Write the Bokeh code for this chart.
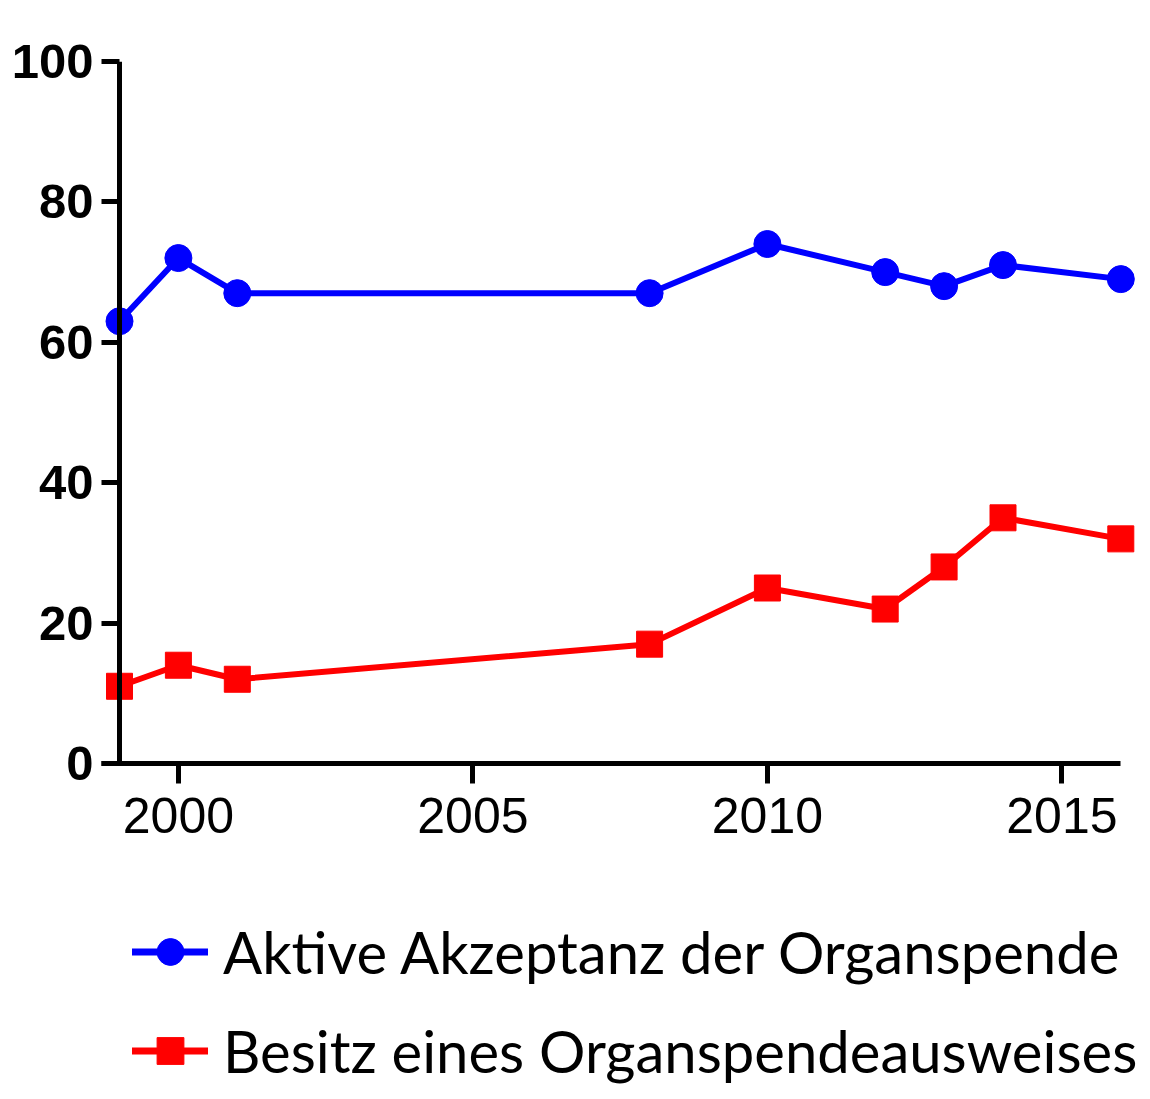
from bokeh.plotting import figure
from bokeh.models import Range1d, FixedTicker, Legend, LegendItem, Span
from bokeh.layouts import column
from bokeh.embed import file_html
from bokeh.resources import INLINE

years = [1999, 2000, 2001, 2008, 2010, 2012, 2013, 2014, 2016]
akzeptanz = [63, 72, 67, 67, 74, 70, 68, 71, 69]
ausweis = [11, 14, 12, 17, 25, 22, 28, 35, 32]
x_ticks = [2000, 2005, 2010, 2015]
y_ticks = [0, 20, 40, 60, 80, 100]
label_a = "Aktive Akzeptanz der Organspende"
label_b = "Besitz eines Organspendeausweises"

BLUE = "#0000FF"
RED = "#FF0000"
x0 = years[0] - 18 / 58.9
x1 = x0 + 1049 / 58.9

p = figure(width=1150, height=858, output_backend="svg", toolbar_location=None,
           x_range=Range1d(x0, x1), y_range=Range1d(0, 100),
           min_border_left=101, min_border_right=0, min_border_top=61,
           min_border_bottom=95)
p.grid.visible = False
p.outline_line_color = None
p.background_fill_color = "white"
p.border_fill_color = "white"

# y axis line at the first year
p.add_layout(Span(location=years[0], dimension="height", line_color="black", line_width=5))

p.line(years, akzeptanz, line_color=BLUE, line_width=6)
p.scatter(years, akzeptanz, marker="circle", size=27, fill_color=BLUE, line_color=BLUE)
p.line(years, ausweis, line_color=RED, line_width=6)
p.scatter(years, ausweis, marker="square", size=26, fill_color=RED, line_color=RED)

for ax in (p.xaxis[0], p.yaxis[0]):
    ax.axis_line_width = 5
    ax.major_tick_line_width = 5
    ax.minor_tick_line_color = None
    ax.axis_line_color = "black"
    ax.major_tick_line_color = "black"

p.yaxis.ticker = FixedTicker(ticks=y_ticks)
p.yaxis.axis_line_color = None
p.yaxis.major_tick_in = 18
p.yaxis.major_tick_out = 0
p.yaxis.major_label_text_font = "Liberation Sans"
p.yaxis.major_label_text_font_style = "bold"
p.yaxis.major_label_text_font_size = "49px"
p.yaxis.major_label_text_color = "black"
p.yaxis.major_label_standoff = 8

p.xaxis.ticker = FixedTicker(ticks=x_ticks)
p.xaxis.bounds = (x0, years[-1])
p.xaxis.major_tick_in = 0
p.xaxis.major_tick_out = 20
p.xaxis.major_label_text_font = "Liberation Sans"
p.xaxis.major_label_text_font_style = "normal"
p.xaxis.major_label_text_font_size = "50px"
p.xaxis.major_label_text_color = "black"
p.xaxis.major_label_standoff = 14

# legend figure (legend sits below the chart)
q = figure(width=1150, height=241, output_backend="svg", toolbar_location=None,
           x_range=Range1d(0, 1), y_range=Range1d(0, 1),
           x_axis_location=None, y_axis_location=None,
           min_border=0, min_border_left=0, min_border_right=0,
           min_border_top=0, min_border_bottom=0)
q.grid.visible = False
q.outline_line_color = None
# legend sample renderers: data lies outside this figure's visible ranges
qa_l = q.line(years[:2], akzeptanz[:2], line_color=BLUE, line_width=7, line_cap="round")
qa_s = q.scatter(years[:1], akzeptanz[:1], marker="circle", fill_color=BLUE, line_color=BLUE)
qb_l = q.line(years[:2], ausweis[:2], line_color=RED, line_width=7, line_cap="round")
qb_s = q.scatter(years[:1], ausweis[:1], marker="square", fill_color=RED, line_color=RED)

legend = Legend(items=[LegendItem(label=label_a, renderers=[qa_l, qa_s]),
                       LegendItem(label=label_b, renderers=[qb_l, qb_s])],
                location=(31, 14), orientation="vertical",
                label_text_font="Lato", label_text_font_size="58px",
                label_text_color="black",
                glyph_width=76, glyph_height=67, label_standoff=15,
                spacing=30, padding=0, margin=0,
                border_line_color=None, background_fill_alpha=0)
q.add_layout(legend, "center")

layout = column(p, q, spacing=0)
open("out.html", "w").write(file_html(layout, INLINE))
